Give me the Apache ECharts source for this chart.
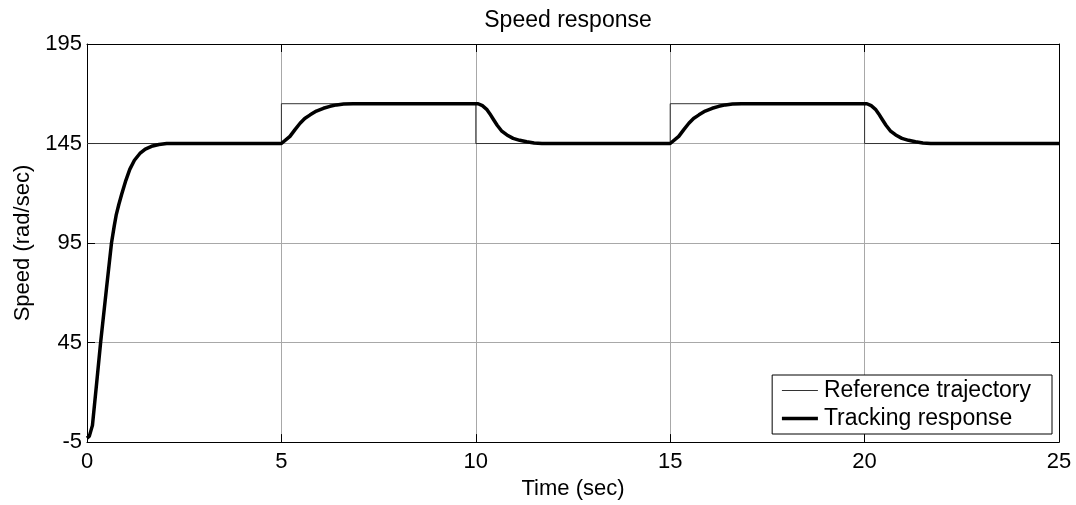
<!DOCTYPE html>
<html lang="en">
<head>
  <meta charset="UTF-8">
  <title>Speed response</title>
  <script src="https://cdn.jsdelivr.net/npm/echarts@6/dist/echarts.min.js"></script>
  <style>
    html, body { margin: 0; padding: 0; background: #fff; }
  </style>
</head>
<body>
<div id="main" style="width:1076px;height:505px;"></div>
<script type="text/javascript">
  // reference trajectory (step changes)
  var refTime  = [0, 5, 5, 10, 10, 15, 15, 20, 20, 25];
  var refSpeed = [145, 145, 165, 165, 145, 145, 165, 165, 145, 145];

  // tracking response
  var trackTime = [
    0, 0.06, 0.14, 0.25, 0.35, 0.5, 0.63, 0.7, 0.75, 0.82, 0.89, 1.0, 1.1, 1.22, 1.36, 1.5, 1.66, 1.85, 2.05, 2.5,
    5.0, 5.05, 5.22, 5.35, 5.48, 5.6, 5.74, 5.9, 6.08, 6.25, 6.42, 6.6, 6.84, 7.2,
    10.0, 10.06, 10.17, 10.28, 10.36, 10.45, 10.55, 10.66, 10.8, 10.96, 11.13, 11.31, 11.5, 11.7, 12.0,
    15.0, 15.05, 15.22, 15.35, 15.48, 15.6, 15.74, 15.9, 16.08, 16.25, 16.42, 16.6, 16.84, 17.2,
    20.0, 20.06, 20.17, 20.28, 20.36, 20.45, 20.55, 20.66, 20.8, 20.96, 21.13, 21.31, 21.5, 21.7, 22.0,
    25.0
  ];
  var trackSpeed = [
    -3, -2, 3.4, 25, 45, 72, 95, 103.5, 109, 114.5, 119.4, 126.5, 132, 136.6, 140, 142.2, 143.6, 144.5, 145, 145,
    145, 145, 148.6, 152, 155.2, 157.6, 159.4, 161.3, 162.7, 163.7, 164.4, 164.8, 165, 165,
    165, 165, 164, 162.2, 160, 157.2, 154.2, 151.4, 149.3, 147.6, 146.6, 145.9, 145.3, 145, 145,
    145, 145, 148.6, 152, 155.2, 157.6, 159.4, 161.3, 162.7, 163.7, 164.4, 164.8, 165, 165,
    165, 165, 164, 162.2, 160, 157.2, 154.2, 151.4, 149.3, 147.6, 146.6, 145.9, 145.3, 145, 145,
    145
  ];

  var xTicks = {min: 0, max: 25, step: 5};
  var yTicks = {min: -5, max: 195, step: 50};

  function pairs(xs, ys) {
    return xs.map(function (x, i) { return [x, ys[i]]; });
  }

  var font = 'Liberation Sans, Arial, sans-serif';
  var chart = echarts.init(document.getElementById('main'));

  var tickStyle = {show: true, inside: true, length: 8, lineStyle: {color: '#000', width: 1}};
  var frameLine = {show: true, onZero: false, lineStyle: {color: '#000', width: 1}};
  var gridLine = {show: true, lineStyle: {color: '#a8a8a8', width: 1}};

  var option = {
    animation: false,
    backgroundColor: '#fff',
    title: {
      text: 'Speed response',
      left: 568,
      top: 9,
      padding: 0,
      textAlign: 'center',
      textStyle: {fontFamily: font, fontSize: 23, fontWeight: 'normal', color: '#000'}
    },
    grid: {left: 87, right: 17, top: 44, bottom: 57, containLabel: false},
    legend: {
      orient: 'vertical',
      right: 24,
      top: 375,
      padding: [4, 21, 4, 8],
      itemGap: 5,
      itemWidth: 36,
      itemHeight: 14,
      // hide the marker dot, keep only the line sample
      itemStyle: {color: 'rgba(0,0,0,0)', borderWidth: 0},
      borderColor: '#000',
      borderWidth: 1,
      borderRadius: 0,
      backgroundColor: '#fff',
      textStyle: {fontFamily: font, fontSize: 23, color: '#000', padding: [0, 0, 0, 1]},
      data: [
        {name: 'Reference trajectory', lineStyle: {color: '#333', width: 1}},
        {name: 'Tracking response', lineStyle: {color: '#000', width: 3.5}}
      ]
    },
    xAxis: [{
      type: 'value',
      min: xTicks.min, max: xTicks.max, interval: xTicks.step,
      position: 'bottom',
      name: 'Time (sec)',
      nameLocation: 'middle',
      nameGap: 30,
      nameTextStyle: {fontFamily: font, fontSize: 22, color: '#000'},
      axisLine: frameLine,
      axisTick: tickStyle,
      axisLabel: {fontFamily: font, fontSize: 22, color: '#000', margin: 9},
      splitLine: gridLine
    }, {
      type: 'value',
      min: xTicks.min, max: xTicks.max, interval: xTicks.step,
      position: 'top',
      axisLine: frameLine,
      axisTick: tickStyle,
      axisLabel: {show: false},
      splitLine: {show: false}
    }],
    yAxis: [{
      type: 'value',
      min: yTicks.min, max: yTicks.max, interval: yTicks.step,
      position: 'left',
      name: 'Speed (rad/sec)',
      nameLocation: 'middle',
      nameGap: 52,
      nameTextStyle: {fontFamily: font, fontSize: 22, color: '#000'},
      axisLine: frameLine,
      axisTick: tickStyle,
      axisLabel: {fontFamily: font, fontSize: 22, color: '#000', margin: 5},
      splitLine: gridLine
    }, {
      type: 'value',
      min: yTicks.min, max: yTicks.max, interval: yTicks.step,
      position: 'right',
      axisLine: frameLine,
      axisTick: tickStyle,
      axisLabel: {show: false},
      splitLine: {show: false}
    }],
    series: [{
      name: 'Reference trajectory',
      type: 'line',
      symbol: 'none',
      data: pairs(refTime, refSpeed),
      lineStyle: {color: '#333', width: 1},
      itemStyle: {color: '#333'},
      z: 2
    }, {
      name: 'Tracking response',
      type: 'line',
      symbol: 'none',
      data: pairs(trackTime, trackSpeed),
      lineStyle: {color: '#000', width: 3.5, join: 'round'},
      itemStyle: {color: '#000'},
      z: 3
    }]
  };

  option && chart.setOption(option);
</script>
</body>
</html>
